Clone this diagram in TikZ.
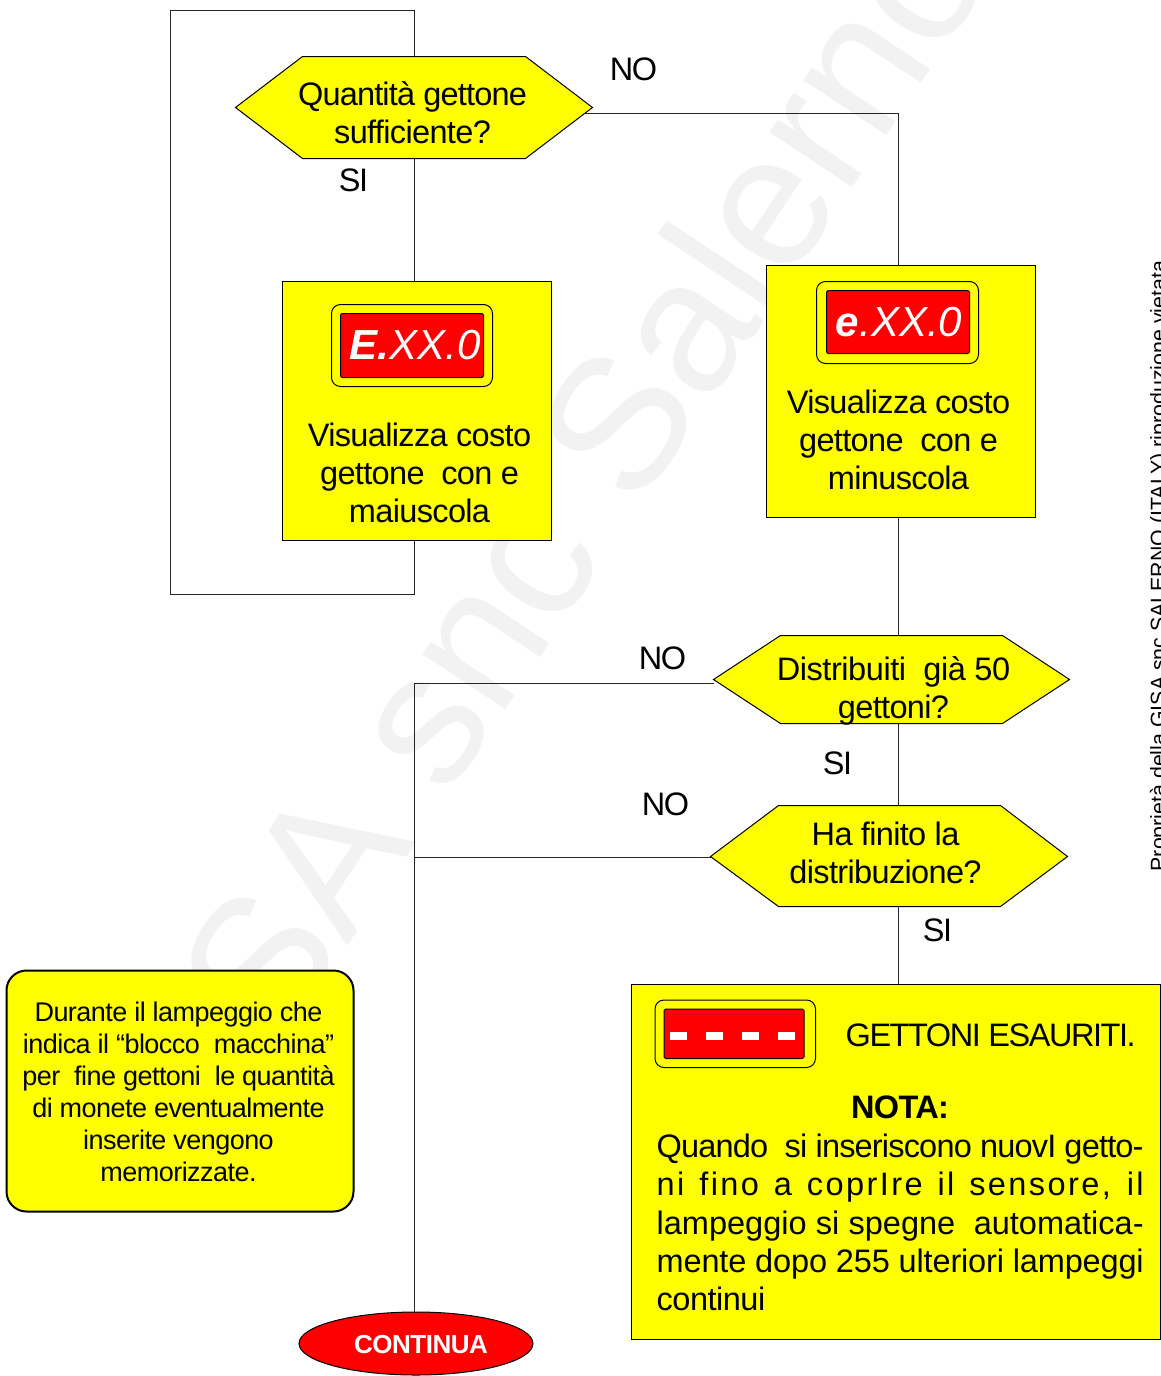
\documentclass[tikz,border=0pt]{standalone}
\usepackage{fontspec}
\setmainfont{Liberation Sans}
\usetikzlibrary{shapes.geometric}
\definecolor{yy}{RGB}{255,255,0}
\definecolor{rr}{RGB}{255,0,0}
\definecolor{wmgray}{RGB}{242,242,242}
\newcommand{\lsp}[1]{\addfontfeature{LetterSpace=#1}}
\tikzset{x=1pt,y=-1pt,
 wire/.style={draw=black!85,line width=1pt},
 ybox/.style={draw=black,fill=yy,line width=1pt},
 ftext/.style={font=\fontsize{32.5}{38}\selectfont\lsp{-2},align=center,inner sep=0,text=black},
 lab/.style={font=\fontsize{32.5}{38}\selectfont\lsp{-2},inner sep=0,text=black},
 disp/.style={draw=black,fill=rr,rounded corners=1.5pt,line width=1pt},
 dispo/.style={draw=black,fill=yy,rounded corners=9pt,line width=1pt},
 hexa/.style={ybox},
 dashw/.style={fill=white,draw=none}
}
\begin{document}
\begin{tikzpicture}
\useasboundingbox (0.5,0.5) rectangle (1160.5,1376.5);
\begin{scope}
\clip (0,0) rectangle (1161,1212);
\node[rotate=56.4,anchor=base west,inner sep=0,text=wmgray,font=\fontsize{188}{188}\selectfont] (wm) at (169,1217) {GISA snc Salerno};
\end{scope}
% wires
\coordinate (c1) at (415,11); \coordinate (c2) at (171,11); \coordinate (c3) at (171,595); \coordinate (c4) at (415,595);
\coordinate (c5) at (899,114); \coordinate (c6) at (415,684); \coordinate (c7) at (415,858);
\draw[wire] (415,57)--(c1)--(c2)--(c3)--(c4)--(415,541);
\draw[wire] (415,159)--(415,282);
\draw[wire] (585,114)--(c5)--(899,266);
\draw[wire] (899,517)--(899,636);
\draw[wire] (899,724)--(899,806);
\draw[wire] (899,907)--(899,985);
\draw[wire] (714,684)--(c6)--(415,1312);
\draw[wire] (711,858)--(c7);
% decisions
\path[hexa] (236,108)--(303,57)--(526,57)--(593,108)--(526,159)--(303,159)--cycle;
\node[ftext] (d1) at (413,113) {\lsp{-2.5}Quantità gettone\\sufficiente?};
\path[hexa] (714,680)--(781,636)--(1003,636)--(1070,680)--(1003,724)--(781,724)--cycle;
\node[ftext] (d2) at (894,691) {\lsp{-1.3}Distribuiti\ \ già 50\\gettoni?};
\path[hexa] (711,857)--(779,806)--(1001,806)--(1068,857)--(1001,907)--(779,907)--cycle;
\node[ftext] (d3) at (886,853) {Ha finito la\\distribuzione?};
% boxes
\path[ybox] (282.5,282) rectangle (551.5,540.5);
\path[dispo] (332,305) rectangle (493,387);
\path[disp] (341,314) rectangle (484,378);
\node[inner sep=0,font=\fontsize{42}{42}\selectfont\itshape,text=white] (e1) at (415.5,346) {\textbf{E.}XX.0};
\node[ftext] (t1) at (420,473) {Visualizza costo\\gettone\ \ con e\\maiuscola};
\path[ybox] (767,266) rectangle (1035.5,517.5);
\path[dispo] (817,282) rectangle (979,364);
\path[disp] (827,291) rectangle (970,354);
\node[inner sep=0,font=\fontsize{42}{42}\selectfont\itshape,text=white] (e2) at (899.5,323) {\textbf{e}.XX.0};
\node[ftext] (t2) at (899,440) {Visualizza costo\\gettone\ \ con e\\minuscola};
% bottom box
\path[ybox] (632,985) rectangle (1161,1339.5);
\path[dispo] (655.5,1000.5) rectangle (816,1068);
\path[disp] (664.5,1009.5) rectangle (804.5,1059);
\foreach \x in {670,706,742,778} \path[dashw] (\x,1032) rectangle ++(17.5,8.5);
\node[lab,anchor=base west] (g) at (846,1047) {\lsp{-4.5}GETTONI ESAURITI.};
\node[lab,anchor=base] (n) at (900.5,1119) {\bfseries NOTA:};
\node[lab,anchor=base west] (l1) at (657,1158) {\lsp{-2.5}Quando\ \ si inseriscono nuovI getto-};
\node[lab,anchor=base west] (l2) at (657,1196) {\lsp{7.5}\makebox[487pt][s]{ni fino a coprIre il sensore, il}};
\node[lab,anchor=base west] (l3) at (657,1235) {\lsp{0}\makebox[487pt][s]{lampeggio si spegne\ \ automatica-}};
\node[lab,anchor=base west] (l4) at (657,1273) {\lsp{-0.5}\makebox[487pt][s]{mente dopo 255 ulteriori lampeggi}};
\node[lab,anchor=base west] (l5) at (657,1311) {\lsp{-1.5}continui};
% note
\path[draw=black,fill=yy,line width=2pt,rounded corners=20pt] (7,971) rectangle (354,1212);
\node[inner sep=0,align=center,font=\fontsize{27}{32}\selectfont\lsp{-2}] (nt) at (179,1092) {Durante il lampeggio che\\indica il “blocco\ \ macchina”\\per\ \ fine gettoni\ \ le quantità\\di monete eventualmente\\inserite vengono\\memorizzate.};
% end
\node[ellipse,draw=black,fill=rr,minimum width=234pt,minimum height=63pt,inner sep=0,line width=1pt] (end) at (416.5,1344) {};
\node[inner sep=0,text=white,font=\bfseries\fontsize{26}{30}\selectfont\lsp{-2}] (endt) at (421.5,1345) {CONTINUA};
% labels
\node[lab] (a1) at (634,70) {\lsp{-5}NO};
\node[lab] (a2) at (354,181) {\lsp{-5}SI};
\node[lab] (a3) at (663,659) {\lsp{-5}NO};
\node[lab] (a4) at (838,764) {\lsp{-5}SI};
\node[lab] (a5) at (666,805) {\lsp{-5}NO};
\node[lab] (a6) at (938,931) {\lsp{-5}SI};
\node[rotate=90,anchor=base west,inner sep=0,font=\fontsize{21.35}{24}\selectfont] (pr) at (1166,872) {Proprietà della GISA snc SALERNO (ITALY) riproduzione vietata};
\end{tikzpicture}
\end{document}
